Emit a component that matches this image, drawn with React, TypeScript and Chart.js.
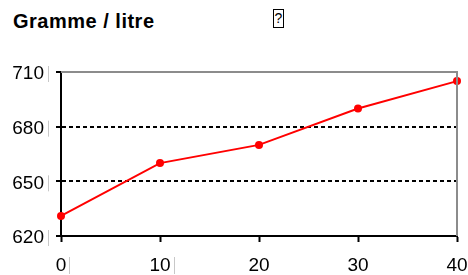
import React, { useEffect, useRef } from "react";
import { Chart, registerables } from "chart.js";

Chart.register(...registerables);

const xValues = [0, 10, 20, 30, 40];
const yValues = [631, 660, 670, 690, 705];
const yTicks = [620, 650, 680, 710];
const titleText = "Gramme / litre";

const FONT = "'Liberation Sans', Arial, sans-serif";

const framePlugin = {
  id: "frame",
  afterDraw(chart: any) {
    const { ctx, chartArea } = chart;
    ctx.save();
    // grey top and right border
    ctx.strokeStyle = "#8c8c8c";
    ctx.lineWidth = 2;
    ctx.beginPath();
    ctx.moveTo(chartArea.left, chartArea.top);
    ctx.lineTo(chartArea.right, chartArea.top);
    ctx.lineTo(chartArea.right, chartArea.bottom);
    ctx.stroke();
    // thin grey marks after labels
    ctx.strokeStyle = "#c8c8c8";
    ctx.lineWidth = 1;
    const ys = chart.scales.y;
    for (const v of yTicks) {
      const py = ys.getPixelForValue(v) + 2;
      ctx.beginPath();
      ctx.moveTo(48.5, py - 8);
      ctx.lineTo(48.5, py + 8);
      ctx.stroke();
    }
    const xs = chart.scales.x;
    ctx.font = `19px ${FONT}`;
    for (const v of xValues.slice(0, 2)) {
      const w = ctx.measureText(String(v)).width;
      const px = Math.round(xs.getPixelForValue(v) + w / 2) + 3.5;
      ctx.beginPath();
      ctx.moveTo(px, chartArea.bottom + 21);
      ctx.lineTo(px, chartArea.bottom + 38);
      ctx.stroke();
    }
    ctx.restore();
  },
};

export default function App() {
  const ref = useRef<HTMLCanvasElement>(null);
  useEffect(() => {
    if (!ref.current) return;
    const chart = new Chart(ref.current, {
      type: "line",
      data: {
        datasets: [
          {
            data: xValues.map((x, i) => ({ x, y: yValues[i] })),
            borderColor: "#ff0000",
            backgroundColor: "#ff0000",
            borderWidth: 2,
            pointRadius: 4,
            pointBackgroundColor: "#ff0000",
            pointBorderWidth: 0,
            tension: 0,
            clip: false as any,
          },
        ],
      },
      options: {
        animation: false,
        responsive: false,
        maintainAspectRatio: false,
        layout: { padding: { left: 0, right: 11, top: 72, bottom: 0 } },
        plugins: { legend: { display: false }, tooltip: { enabled: false }, title: { display: false } },
        scales: {
          x: {
            type: "linear",
            min: 0,
            max: 40,
            afterFit: (s: any) => {
              s.height = 39;
              s.paddingLeft = 0;
              s.paddingRight = 0;
            },
            afterBuildTicks: (s: any) => {
              s.ticks = xValues.map((v) => ({ value: v }));
            },
            ticks: {
              color: "#000",
              font: { family: FONT, size: 19 },
              padding: 12,
              maxRotation: 0,
            },
            grid: {
              drawOnChartArea: false,
              drawTicks: true,
              tickLength: 6,
              tickColor: "#000",
              tickWidth: 2,
            },
            border: { color: "#000", width: 2 },
          },
          y: {
            type: "linear",
            min: 620,
            max: 710,
            afterFit: (s: any) => {
              s.width = 61;
              s.paddingTop = 0;
              s.paddingBottom = 0;
            },
            afterBuildTicks: (s: any) => {
              s.ticks = yTicks.map((v) => ({ value: v }));
            },
            ticks: {
              color: "#000",
              font: { family: FONT, size: 19 },
              padding: 12,
              labelOffset: 2,
            },
            grid: {
              color: (c: any) => (c.tick && (c.tick.value === 650 || c.tick.value === 680) ? "#000" : "rgba(0,0,0,0)"),
              lineWidth: 2,
              drawTicks: true,
              tickLength: 5,
              tickColor: "#000",
              tickWidth: 2,
              tickBorderDash: [],
            } as any,
            border: { color: "#000", width: 2, dash: [4, 3] },
          },
        },
      },
      plugins: [framePlugin],
    });
    return () => chart.destroy();
  }, []);
  return (
    <div style={{ position: "absolute", left: 0, top: 0, width: 468, height: 275, background: "#fff" }}>
      <div
        style={{
          position: "absolute",
          left: 13,
          top: 10,
          fontFamily: FONT,
          fontWeight: "bold",
          fontSize: 20,
          letterSpacing: "0.5px",
          color: "#000",
          whiteSpace: "nowrap",
        }}
      >
        {titleText}
      </div>
      <div
        style={{
          position: "absolute",
          left: 273,
          top: 9,
          width: 11,
          height: 19,
          border: "1px solid #000",
          boxSizing: "border-box",
          fontFamily: FONT,
          fontSize: 14,
          lineHeight: "17px",
          textAlign: "center",
          color: "#000",
        }}
      >
        ?
      </div>
      <canvas ref={ref} width={468} height={275} style={{ position: "absolute", left: 0, top: 0 }} />
    </div>
  );
}
